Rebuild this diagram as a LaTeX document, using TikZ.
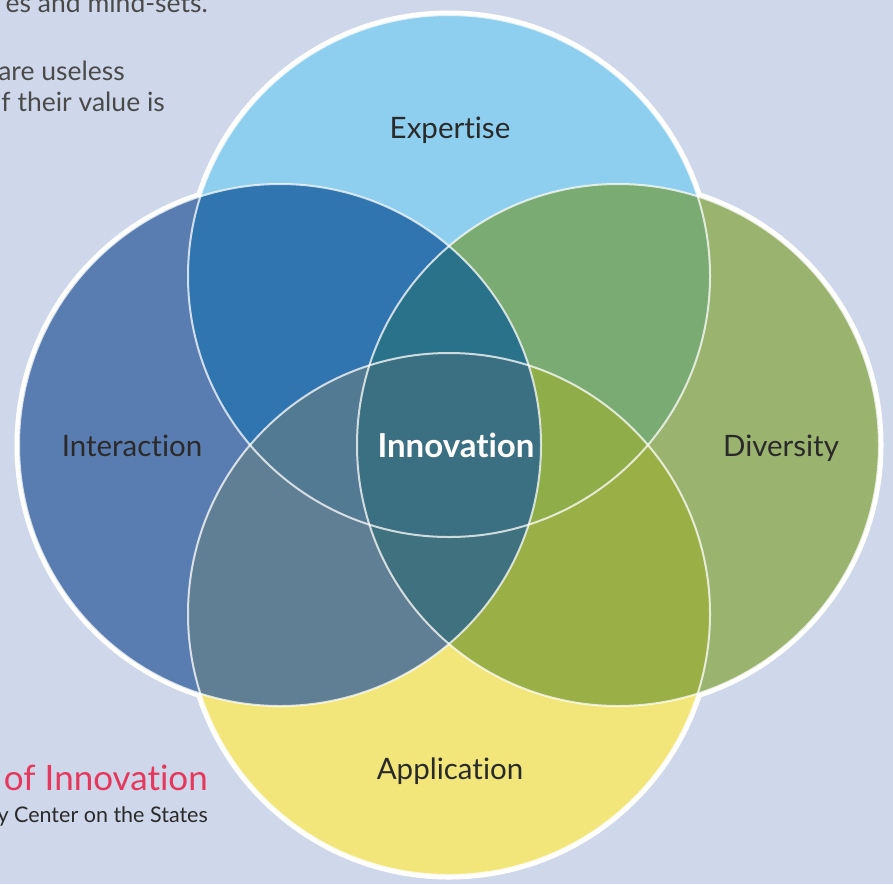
\documentclass[tikz,border=0pt]{standalone}
\usepackage{fontspec}
\setmainfont{Lato}[Ligatures=NoCommon]
\definecolor{bg}{HTML}{CFD8EA}
\definecolor{cT}{HTML}{8ECFF0}
\definecolor{cL}{HTML}{5A7DB1}
\definecolor{cR}{HTML}{9AB46F}
\definecolor{cB}{HTML}{F2E67A}
\definecolor{cTL}{HTML}{3075AF}
\definecolor{cTR}{HTML}{7AAB72}
\definecolor{cLB}{HTML}{607F94}
\definecolor{cRB}{HTML}{9AAF46}
\definecolor{cTLR}{HTML}{2A718A}
\definecolor{cTLB}{HTML}{527A92}
\definecolor{cTRB}{HTML}{8FAD48}
\definecolor{cLRB}{HTML}{40717F}
\definecolor{cAll}{HTML}{3B7082}
\definecolor{txt}{HTML}{2A2A2A}
\definecolor{pink}{HTML}{E6375C}
\tikzset{
  lbl/.style={text=txt, inner sep=0pt, anchor=base, font=\fontsize{29.5}{34}\selectfont},
  sidetext/.style={text=txt!85!white, inner sep=0pt, anchor=base east, font=\fontsize{26.5}{31}\selectfont},
  outerring/.style={draw=white, line width=9pt},
  innerline/.style={draw=white, draw opacity=0.75, line width=2pt},
}
\newcommand{\cT}{(449,276) circle[radius=261pt]}
\newcommand{\cL}{(280,445) circle[radius=261pt]}
\newcommand{\cR}{(618,445) circle[radius=261pt]}
\newcommand{\cB}{(449,614) circle[radius=261pt]}
\begin{document}
\begin{tikzpicture}[x=1pt,y=-1pt]
\useasboundingbox (0,0) rectangle (893,884);
\fill[bg] (0,0) rectangle (893,884);
% side texts (cut by the page edge)
\node[sidetext] (s1) at (208,12) {es and mind-sets.};
\node[sidetext] (s2) at (125,80) {are useless};
\node[sidetext] (s3) at (165,111) {f their value is};
\node[anchor=base east, inner sep=0pt, text=pink, font=\fontsize{35}{40}\selectfont] (s4) at (208,790) {of Innovation};
\node[anchor=base east, inner sep=0pt, text=txt, font=\fontsize{21.5}{26}\selectfont] (s5) at (208,822) {y Center on the States};
% outer white ring
\path[outerring] \cT; \path[outerring] \cL; \path[outerring] \cR; \path[outerring] \cB;
% single circles
\fill[cT] \cT; \fill[cL] \cL; \fill[cR] \cR; \fill[cB] \cB;
% pairs
\begin{scope}\clip \cT; \fill[cTL] \cL; \end{scope}
\begin{scope}\clip \cT; \fill[cTR] \cR; \end{scope}
\begin{scope}\clip \cB; \fill[cLB] \cL; \end{scope}
\begin{scope}\clip \cB; \fill[cRB] \cR; \end{scope}
% triples
\begin{scope}\clip \cT; \clip \cL; \fill[cTLR] \cR; \end{scope}
\begin{scope}\clip \cT; \clip \cL; \fill[cTLB] \cB; \end{scope}
\begin{scope}\clip \cT; \clip \cR; \fill[cTRB] \cB; \end{scope}
\begin{scope}\clip \cL; \clip \cR; \fill[cLRB] \cB; \end{scope}
% all four
\begin{scope}\clip \cT; \clip \cL; \clip \cR; \fill[cAll] \cB; \end{scope}
% inner lines
\path[innerline] \cT; \path[innerline] \cL; \path[innerline] \cR; \path[innerline] \cB;
% labels
\node[lbl] (expertise) at (450,138) {Expertise};
\node[lbl] (interaction) at (132,456) {Interaction};
\node[lbl] (diversity) at (781,456) {Diversity};
\node[lbl] (application) at (450,779) {Application};
\node[inner sep=0pt, anchor=base, text=white, font=\fontsize{33}{38}\selectfont\bfseries] (innovation) at (456,457) {Innovation};
\end{tikzpicture}
\end{document}
